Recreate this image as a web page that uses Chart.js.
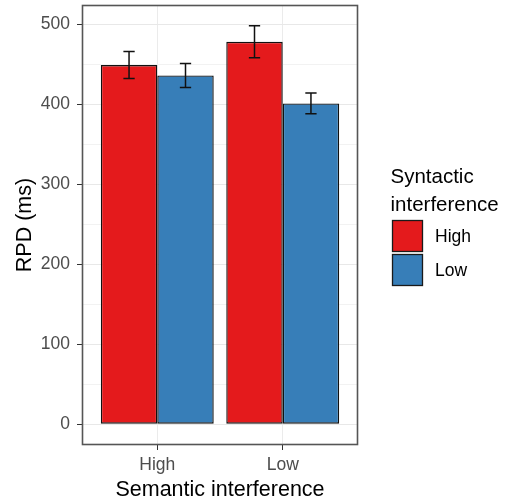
<!DOCTYPE html>
<html>
<head>
<meta charset="utf-8">
<script src="https://cdn.jsdelivr.net/npm/chart.js@4"></script>
<style>
  html, body { margin: 0; padding: 0; background: #fff; }
  #wrap { width: 506px; height: 503px; }
</style>
</head>
<body>
<div id="wrap"><canvas id="chart-rpd"></canvas></div>
<script>
// data
var semantic = ["High", "Low"];
var syntactic = ["High", "Low"];
var rpdHigh = [449, 478];
var rpdLow = [436, 401];
var seHigh = [17, 20];
var seLow = [15, 13];
var yTicks = [0, 100, 200, 300, 400, 500];

var fontFamily = "'Liberation Sans', Arial, sans-serif";

function toPoints(values) {
  return values.map(function(v, i) { return { x: i + 1, y: v }; });
}

// panel border, error bars, legend
var extras = {
  id: "extras",
  afterDatasetsDraw: function(chart) {
    var ctx = chart.ctx;
    var y = chart.scales.y;
    ctx.save();
    ctx.strokeStyle = "#111";
    ctx.lineWidth = 1.5;
    chart.data.datasets.forEach(function(ds, di) {
      var meta = chart.getDatasetMeta(di);
      meta.data.forEach(function(bar, i) {
        var v = ds.data[i].y;
        var top = y.getPixelForValue(v + ds.se[i]);
        var bot = y.getPixelForValue(v - ds.se[i]);
        var half = bar.width * 0.1;
        ctx.beginPath();
        ctx.moveTo(bar.x, top); ctx.lineTo(bar.x, bot);
        ctx.moveTo(bar.x - half, top); ctx.lineTo(bar.x + half, top);
        ctx.moveTo(bar.x - half, bot); ctx.lineTo(bar.x + half, bot);
        ctx.stroke();
      });
    });
    ctx.restore();
  },
  afterDraw: function(chart) {
    var ctx = chart.ctx;
    var a = chart.chartArea;
    ctx.save();
    ctx.strokeStyle = "#555";
    ctx.lineWidth = 1.6;
    ctx.strokeRect(Math.round(a.left) + 0.5, Math.round(a.top) + 0.5,
      Math.round(a.right - a.left) - 1, Math.round(a.bottom - a.top) - 1);

    // legend
    ctx.fillStyle = "#000";
    ctx.font = "20.5px " + fontFamily;
    ctx.textBaseline = "alphabetic";
    ctx.textAlign = "left";
    ctx.fillText("Syntactic", 390.5, 183);
    ctx.fillText("interference", 390.5, 211);

    ctx.font = "17.5px " + fontFamily;
    ctx.textBaseline = "middle";
    chart.data.datasets.forEach(function(ds, i) {
      var by = 220 + i * 34;
      ctx.fillStyle = ds.backgroundColor;
      ctx.fillRect(392, by, 31, 32);
      ctx.strokeStyle = "#1a1a1a";
      ctx.lineWidth = 1.3;
      ctx.strokeRect(392.5, by + 0.5, 30, 31);
      ctx.fillStyle = "#000";
      ctx.fillText(ds.label, 435, by + 17);
    });
    ctx.restore();
  }
};

var ctx1 = document.getElementById("chart-rpd").getContext("2d");

var chart = new Chart(ctx1, {
  type: "bar",
  data: {
    datasets: [
      {
        label: syntactic[0],
        data: toPoints(rpdHigh),
        se: seHigh,
        backgroundColor: "#E41A1C",
        borderColor: "#111",
        borderWidth: 1.4,
        borderSkipped: false
      },
      {
        label: syntactic[1],
        data: toPoints(rpdLow),
        se: seLow,
        backgroundColor: "#377EB8",
        borderColor: "#111",
        borderWidth: 1.4,
        borderSkipped: false
      }
    ]
  },
  options: {
    responsive: true,
    maintainAspectRatio: false,
    animation: false,
    categoryPercentage: 0.9,
    barPercentage: 1,
    layout: { padding: { top: 5, right: 148, bottom: 0, left: 0 } },
    plugins: {
      legend: { display: false },
      tooltip: { enabled: false }
    },
    scales: {
      x: {
        type: "linear",
        min: 0.4,
        max: 2.6,
        offset: false,
        afterBuildTicks: function(scale) {
          scale.ticks = semantic.map(function(s, i) { return { value: i + 1 }; });
        },
        afterFit: function(scale) {
          scale.height = 58;
          scale.paddingLeft = scale.paddingRight = 0;
        },
        grid: {
          offset: false,
          color: "#ebebeb",
          lineWidth: 1,
          tickColor: "#333",
          tickLength: 5
        },
        border: { display: false },
        ticks: {
          padding: 4.5,
          color: "#4d4d4d",
          font: { family: fontFamily, size: 17.5 },
          maxRotation: 0,
          callback: function(v) { return semantic[v - 1]; }
        },
        title: {
          display: true,
          text: "Semantic interference",
          color: "#000",
          font: { family: fontFamily, size: 21.5 },
          padding: { top: 0, bottom: 0 }
        }
      },
      y: {
        min: -26,
        max: 524,
        afterBuildTicks: function(scale) {
          var t = [];
          for (var v = 0; v <= 500; v += 50) t.push({ value: v });
          scale.ticks = t;
        },
        afterFit: function(scale) {
          scale.width = 82;
          scale.paddingTop = scale.paddingBottom = 0;
        },
        grid: {
          color: function(c) { return c.tick && c.tick.value % 100 === 0 ? "#e8e8e8" : "#f2f2f2"; },
          lineWidth: 1,
          tickColor: function(c) { return c.tick && c.tick.value % 100 === 0 ? "#333" : "rgba(0,0,0,0)"; },
          tickLength: 5
        },
        border: { display: false },
        ticks: {
          padding: 7,
          color: "#4d4d4d",
          font: { family: fontFamily, size: 17.5 },
          callback: function(v) { return yTicks.indexOf(v) >= 0 ? String(v) : ""; }
        },
        title: {
          display: true,
          text: "RPD (ms)",
          color: "#000",
          font: { family: fontFamily, size: 21.5 },
          padding: { top: 12, bottom: 0 }
        }
      }
    }
  },
  plugins: [extras]
});
</script>
</body>
</html>
